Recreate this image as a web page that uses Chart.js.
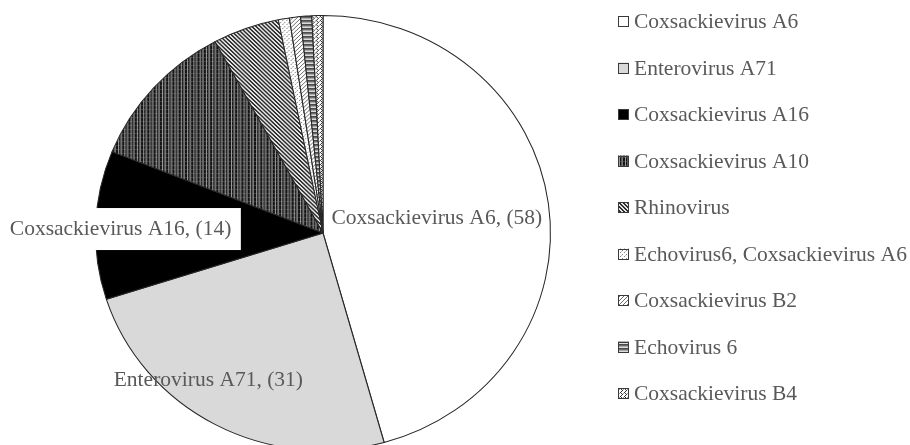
<!DOCTYPE html>
<html>
<head>
<meta charset="utf-8">
<script src="https://cdn.jsdelivr.net/npm/chart.js@4/dist/chart.umd.min.js"></script>
<style>
  html, body { margin: 0; padding: 0; background: #fff; overflow: hidden; width: 910px; height: 445px; }
  #wrap { position: absolute; left: 0; top: 0; width: 910px; height: 460px; }
</style>
</head>
<body>
<div id="wrap"><canvas id="c"></canvas></div>
<script>
// Virus types detected and number of cases
const categories = [
  'Coxsackievirus A6',
  'Enterovirus A71',
  'Coxsackievirus A16',
  'Coxsackievirus A10',
  'Rhinovirus',
  'Echovirus6, Coxsackievirus A6',
  'Coxsackievirus B2',
  'Echovirus 6',
  'Coxsackievirus B4'
];
const caseCounts = [58, 31, 14, 14, 6, 1, 1, 1, 1];
// slices that carry an inline "name, (count)" label
const labelledSlices = [0, 1, 2];

const TEXT_COLOR = '#595959';
const FONT = '21.5px "Liberation Serif", "Times New Roman", serif';

// ---- fill patterns -------------------------------------------------------
function tile(w, h, bg, painter) {
  const cv = document.createElement('canvas');
  cv.width = w; cv.height = h;
  const g = cv.getContext('2d');
  g.fillStyle = bg; g.fillRect(0, 0, w, h);
  painter((x, y, col) => { g.fillStyle = col; g.fillRect(x, y, 1, 1); });
  return g.createPattern(cv, 'repeat');
}

const fills = [
  '#ffffff',
  '#d9d9d9',
  '#000000',
  // dark vertical stripes
  tile(6, 4, '#141414', (p) => {
    for (let y = 0; y < 4; y++) {
      p(1, y, '#9a9a9a'); p(3, y, '#5a5a5a'); p(4, y, '#7a7a7a');
    }
    p(0, 1, '#3a3a3a'); p(2, 1, '#3a3a3a'); p(5, 1, '#3a3a3a');
  }),
  // wide downward diagonal
  tile(4, 4, '#e6e6e6', (p) => {
    for (let y = 0; y < 4; y++) { p(y, y, '#2e2e2e'); p((y + 1) % 4, y, '#2e2e2e'); }
  }),
  // small dots
  tile(4, 4, '#ffffff', (p) => { p(0, 0, '#8a8a8a'); p(2, 2, '#8a8a8a'); p(1, 3, '#c8c8c8'); }),
  // light upward diagonal
  tile(4, 4, '#ffffff', (p) => { for (let y = 0; y < 4; y++) p(3 - y, y, '#6e6e6e'); }),
  // horizontal stripes
  tile(4, 4, '#dcdcdc', (p) => { for (let x = 0; x < 4; x++) { p(x, 0, '#4a4a4a'); p(x, 1, '#6a6a6a'); p(x, 2, '#a8a8a8'); } }),
  // zig-zag
  tile(4, 4, '#ffffff', (p) => { p(0, 0, '#333'); p(1, 1, '#333'); p(2, 2, '#333'); p(1, 3, '#333'); p(3, 1, '#999'); })
];

// ---- plugins -------------------------------------------------------------
const X_STRETCH = 228 / 218;   // pie is drawn slightly wider than tall

const stretchPie = {
  id: 'stretchPie',
  beforeDatasetsDraw(chart) {
    const arc = chart.getDatasetMeta(0).data[0];
    const ctx = chart.ctx;
    ctx.save();
    ctx.translate(arc.x, arc.y);
    ctx.scale(X_STRETCH, 1);
    ctx.translate(-arc.x, -arc.y);
  },
  afterDatasetsDraw(chart) { chart.ctx.restore(); }
};

// where along each labelled slice the text sits: fraction of the sweep, fraction of the radius
const labelPlacement = {
  0: { t: 0.5, f: 0.505, box: false },
  1: { t: 0.594, f: 0.845, box: false },
  2: { t: 0.476, f: 0.89, box: true }
};

const sliceLabels = {
  id: 'sliceLabels',
  afterDraw(chart) {
    const ctx = chart.ctx;
    const meta = chart.getDatasetMeta(0);
    const values = chart.data.datasets[0].data;
    ctx.save();
    ctx.font = FONT;
    ctx.textAlign = 'center';
    ctx.textBaseline = 'middle';
    labelledSlices.forEach((i) => {
      const arc = meta.data[i];
      const pl = labelPlacement[i];
      const a = arc.startAngle + pl.t * (arc.endAngle - arc.startAngle);
      const r = arc.outerRadius * pl.f;
      const x = arc.x + Math.cos(a) * r * X_STRETCH;
      const y = arc.y + Math.sin(a) * r;
      const text = chart.data.labels[i] + ', (' + values[i] + ')';
      if (pl.box) {
        const w = ctx.measureText(text).width + 19;
        ctx.fillStyle = '#ffffff';
        ctx.fillRect(x - w / 2, y - 21, w, 42);
      }
      ctx.fillStyle = TEXT_COLOR;
      ctx.fillText(text, x, y);
    });
    ctx.restore();
  }
};

const sideLegend = {
  id: 'sideLegend',
  afterDraw(chart) {
    const ctx = chart.ctx;
    const bg = chart.data.datasets[0].backgroundColor;
    const left = 618, top = 21.5, step = 46.5, box = 11;
    ctx.save();
    ctx.font = FONT;
    ctx.textBaseline = 'middle';
    ctx.textAlign = 'left';
    chart.data.labels.forEach((lab, i) => {
      const cy = top + i * step;
      ctx.fillStyle = bg[i];
      ctx.fillRect(left, cy - box / 2, box, box);
      ctx.strokeStyle = '#3a3a3a';
      ctx.lineWidth = 1;
      ctx.strokeRect(left + 0.5, Math.round(cy - box / 2) + 0.5, box - 1, box - 1);
      ctx.fillStyle = TEXT_COLOR;
      ctx.fillText(lab, 634, cy + 1);
    });
    ctx.restore();
  }
};

new Chart(document.getElementById('c'), {
  type: 'pie',
  data: {
    labels: categories,
    datasets: [{
      data: caseCounts,
      backgroundColor: fills,
      borderColor: '#262626',
      borderWidth: 1
    }]
  },
  options: {
    responsive: true,
    maintainAspectRatio: false,
    animation: false,
    events: [],
    layout: { padding: { left: 105, right: 369, top: 15, bottom: 9 } },
    plugins: {
      legend: { display: false },
      tooltip: { enabled: false }
    }
  },
  plugins: [stretchPie, sliceLabels, sideLegend]
});
</script>
</body>
</html>
